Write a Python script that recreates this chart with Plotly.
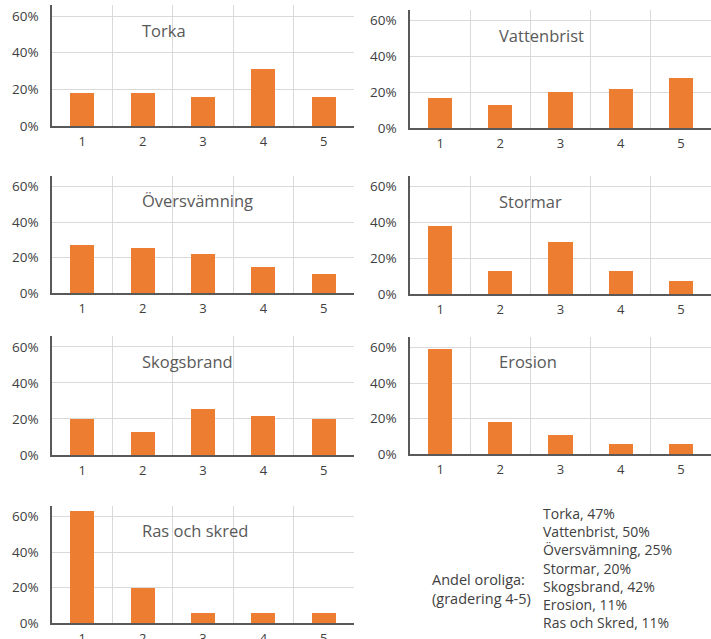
import plotly.graph_objects as go

categories = [1, 2, 3, 4, 5]
panel_names = ["Torka", "Vattenbrist", "Översvämning", "Stormar", "Skogsbrand", "Erosion", "Ras och skred"]
torka = [18, 18, 16, 31, 16]
vattenbrist = [17, 13, 20, 22, 28]
oversvamning = [27, 25.5, 22, 14.5, 11]
stormar = [38, 13, 29, 13, 7]
skogsbrand = [20, 12.5, 25.5, 21.5, 20]
erosion = [59, 18, 11, 5.5, 5.5]
ras_och_skred = [63, 20, 5.5, 5.5, 5.5]
y_ticks = [0, 20, 40, 60]
y_ticktext = ["0%", "20%", "40%", "60%"]
summary_label = "Andel oroliga:<br>(gradering 4-5)"
summary_lines = ["Torka, 47%", "Vattenbrist, 50%", "Översvämning, 25%", "Stormar, 20%",
                 "Skogsbrand, 42%", "Erosion, 11%", "Ras och Skred, 11%"]

series = [torka, vattenbrist, oversvamning, stormar, skogsbrand, erosion, ras_och_skred]

W, H = 711, 639
ORANGE = "#ED7D31"
TEXT = "#404040"
FONT = "Open Sans"

# pixel boxes per panel: (left, right, top, bottom) where bottom = 0% line
boxes = [
    (52, 354, 5, 126),
    (410, 711, 10, 128),
    (52, 354, 176, 293),
    (410, 711, 176, 294),
    (52, 354, 336, 455),
    (410, 711, 337, 454),
    (52, 354, 506, 623),
]

fig = go.Figure()
layout = {}
annotations = []

for i, (name, vals) in enumerate(zip(panel_names, series)):
    n = "" if i == 0 else str(i + 1)
    left, right, top, bottom = boxes[i]
    fig.add_trace(go.Bar(
        x=categories, y=vals, width=0.4,
        marker=dict(color=ORANGE, line=dict(width=0)),
        xaxis="x" + n, yaxis="y" + n, showlegend=False,
    ))
    layout["xaxis" + n] = dict(
        domain=[left / W, min(right / W, 1)], anchor="y" + n,
        range=[0.5, 5.5], tickvals=categories, showgrid=False,
        showline=True, linecolor="#595959", linewidth=1.5,
        ticks="", ticklen=0, ticklabelstandoff=3, automargin=False,
        tickfont=dict(family=FONT, size=13, color=TEXT),
        minor=dict(tickmode="array", tickvals=[1.5, 2.5, 3.5, 4.5],
                   showgrid=True, gridcolor="#d9d9d9", gridwidth=1, ticks=""),
        fixedrange=True,
    )
    layout["yaxis" + n] = dict(
        domain=[1 - bottom / H, 1 - top / H], anchor="x" + n,
        range=[0, 66], tickvals=y_ticks, ticktext=y_ticktext,
        showgrid=True, gridcolor="#d9d9d9", gridwidth=1, zeroline=False,
        showline=True, linecolor="#595959", linewidth=1.5,
        ticks="", ticklabelstandoff=9, automargin=False,
        tickfont=dict(family=FONT, size=13.5, color=TEXT),
        fixedrange=True,
    )
    annotations.append(dict(
        text=name, x=1.95, y=52, xref="x" + n, yref="y" + n,
        xanchor="left", yanchor="middle", showarrow=False,
        font=dict(family=FONT, size=16.5, color="#595959"),
    ))

annotations.append(dict(
    text=summary_label, x=430 / W, y=1 - 589 / H, xref="paper", yref="paper",
    xanchor="left", yanchor="middle", align="left", showarrow=False,
    font=dict(family=FONT, size=14.5, color=TEXT),
))
annotations.append(dict(
    text="<br>".join(summary_lines), x=541 / W, y=1 - 568 / H, xref="paper", yref="paper",
    xanchor="left", yanchor="middle", align="left", showarrow=False,
    font=dict(family=FONT, size=14, color=TEXT),
))

fig.update_layout(
    width=W, height=H,
    margin=dict(l=0, r=0, t=0, b=0, autoexpand=False),
    paper_bgcolor="white", plot_bgcolor="white",
    annotations=annotations,
    bargap=0,
    **layout,
)

# drop the default page margin so the figure sits at the window's corner
fig.write_html("out.html", config={"displayModeBar": False},
               post_script="document.body.style.margin='0';")
